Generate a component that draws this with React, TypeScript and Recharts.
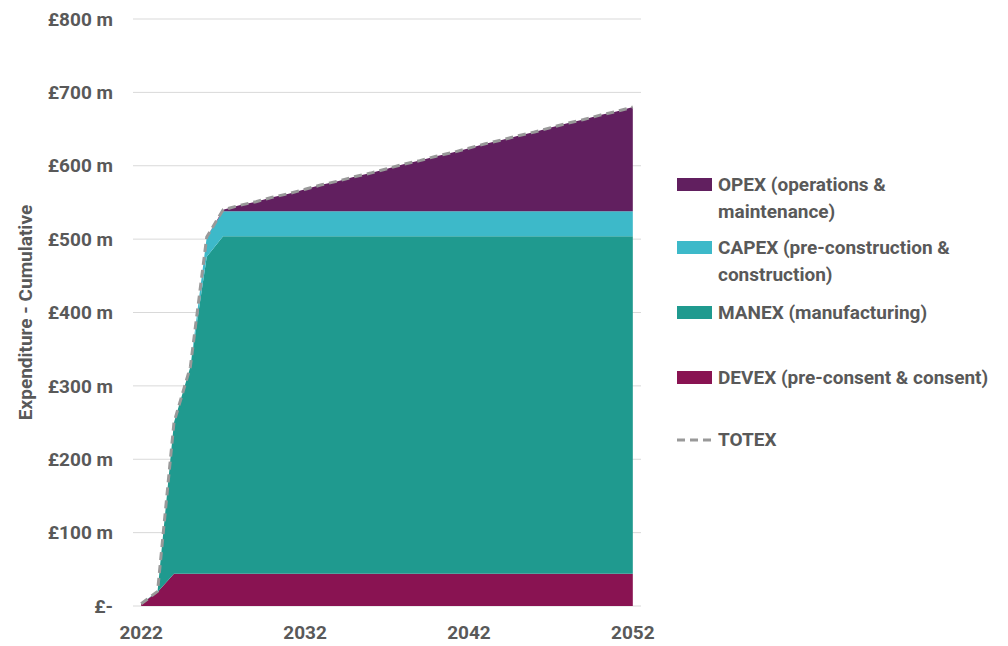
import { Area, CartesianGrid, ComposedChart, Line, XAxis, YAxis } from 'recharts';

const years = [
  2022, 2023, 2024, 2025, 2026, 2027, 2028, 2029, 2030, 2031, 2032, 2033, 2034, 2035, 2036, 2037,
  2038, 2039, 2040, 2041, 2042, 2043, 2044, 2045, 2046, 2047, 2048, 2049, 2050, 2051, 2052,
];

// cumulative £m per category
const devex = [
  3, 19, 44, 44, 44, 44, 44, 44, 44, 44, 44, 44, 44, 44, 44, 44, 44, 44, 44, 44, 44, 44, 44, 44,
  44, 44, 44, 44, 44, 44, 44,
];
const manex = [
  0, 1, 206, 282, 432, 460, 460, 460, 460, 460, 460, 460, 460, 460, 460, 460, 460, 460, 460, 460,
  460, 460, 460, 460, 460, 460, 460, 460, 460, 460, 460,
];
const capex = [
  0, 0, 0, 0, 27, 34, 34, 34, 34, 34, 34, 34, 34, 34, 34, 34, 34, 34, 34, 34, 34, 34, 34, 34, 34,
  34, 34, 34, 34, 34, 34,
];
const opex = [
  0, 0, 0, 0, 0, 2, 8, 13, 19, 24, 30, 36, 41, 47, 52, 58, 64, 69, 75, 80, 86, 92, 97, 103, 108,
  114, 120, 125, 131, 136, 142,
];

const xLabels = [2022, 2032, 2042, 2052];
const yTicks = [0, 100, 200, 300, 400, 500, 600, 700, 800];

const colors = {
  opex: '#611F5F',
  capex: '#3DB9C9',
  manex: '#1F9A8F',
  devex: '#891352',
  totex: '#999999',
};

const legendItems = [
  { key: 'opex', lines: ['OPEX (operations &', 'maintenance)'], top: 171 },
  { key: 'capex', lines: ['CAPEX (pre-construction &', 'construction)'], top: 234 },
  { key: 'manex', lines: ['MANEX (manufacturing)'], top: 299 },
  { key: 'devex', lines: ['DEVEX (pre-consent & consent)'], top: 364 },
  { key: 'totex', lines: ['TOTEX'], top: 426 },
] as const;

const data = years.map((year, i) => ({
  year,
  devex: devex[i],
  manex: manex[i],
  capex: capex[i],
  opex: opex[i],
  totex: devex[i] + manex[i] + capex[i] + opex[i],
}));

const textColor = '#595959';
const font = 'Roboto, sans-serif';
const tick = { fontSize: 19, fontWeight: 700, fill: textColor, fontFamily: font };
const domain: [number, number] = [years[0] - 0.5, years[years.length - 1] + 0.5];
const boundaries = [...years.map((y) => y - 0.5), years[years.length - 1] + 0.5];

function Legend() {
  return (
    <div style={{ position: 'absolute', left: 677, top: 0, fontFamily: font }}>
      {legendItems.map((item) => (
        <div
          key={item.key}
          style={{ position: 'absolute', top: item.top, display: 'flex', alignItems: 'flex-start' }}
        >
          <div style={{ width: 35, height: 27, display: 'flex', alignItems: 'center' }}>
            {item.key === 'totex' ? (
              <svg width={35} height={4}>
                <line
                  x1={0}
                  y1={2}
                  x2={35}
                  y2={2}
                  stroke={colors.totex}
                  strokeWidth={3}
                  strokeDasharray="8 5"
                />
              </svg>
            ) : (
              <div style={{ width: 35, height: 13, background: colors[item.key] }} />
            )}
          </div>
          <div
            style={{
              marginLeft: 6,
              fontSize: 19,
              fontWeight: 700,
              color: textColor,
              lineHeight: '27px',
              whiteSpace: 'nowrap',
            }}
          >
            {item.lines.map((l) => (
              <div key={l}>{l}</div>
            ))}
          </div>
        </div>
      ))}
    </div>
  );
}

export default function App() {
  return (
    <div style={{ position: 'relative', width: 1008, height: 646, background: '#fff' }}>
      <style>{`body{margin:0}`}</style>
      <ComposedChart
        width={660}
        height={646}
        data={data}
        margin={{ top: 19, right: 19, bottom: 0, left: 0 }}
      >
        <CartesianGrid vertical={false} stroke="#d9d9d9" xAxisId="main" />
        <XAxis
          xAxisId="minor"
          dataKey="year"
          type="number"
          domain={domain}
          ticks={boundaries}
          tick={false}
          tickSize={5}
          height={0}
          stroke="#d9d9d9"
        />
        <XAxis
          xAxisId="main"
          dataKey="year"
          type="number"
          domain={domain}
          ticks={xLabels}
          interval={0}
          axisLine={false}
          tickLine={false}
          tickSize={0}
          tickMargin={20}
          height={40}
          tick={tick}
        />
        <YAxis
          domain={[0, 800]}
          ticks={yTicks}
          axisLine={false}
          tickLine={false}
          tickSize={0}
          tickMargin={20}
          width={133}
          tick={tick}
          tickFormatter={(v: number) => (v === 0 ? '£-' : `£${v} m`)}
          label={{
            value: 'Expenditure - Cumulative',
            angle: -90,
            position: 'center',
            dx: -41,
            style: { ...tick, textAnchor: 'middle' },
          }}
        />
        <Area
          xAxisId="main"
          type="linear"
          dataKey="devex"
          stackId="1"
          stroke="none"
          fill={colors.devex}
          fillOpacity={1}
          isAnimationActive={false}
        />
        <Area
          xAxisId="main"
          type="linear"
          dataKey="manex"
          stackId="1"
          stroke="none"
          fill={colors.manex}
          fillOpacity={1}
          isAnimationActive={false}
        />
        <Area
          xAxisId="main"
          type="linear"
          dataKey="capex"
          stackId="1"
          stroke="none"
          fill={colors.capex}
          fillOpacity={1}
          isAnimationActive={false}
        />
        <Area
          xAxisId="main"
          type="linear"
          dataKey="opex"
          stackId="1"
          stroke="none"
          fill={colors.opex}
          fillOpacity={1}
          isAnimationActive={false}
        />
        <Line
          xAxisId="main"
          type="linear"
          dataKey="totex"
          stroke={colors.totex}
          strokeWidth={3}
          strokeDasharray="8 5"
          dot={false}
          isAnimationActive={false}
        />
      </ComposedChart>
      <Legend />
    </div>
  );
}
